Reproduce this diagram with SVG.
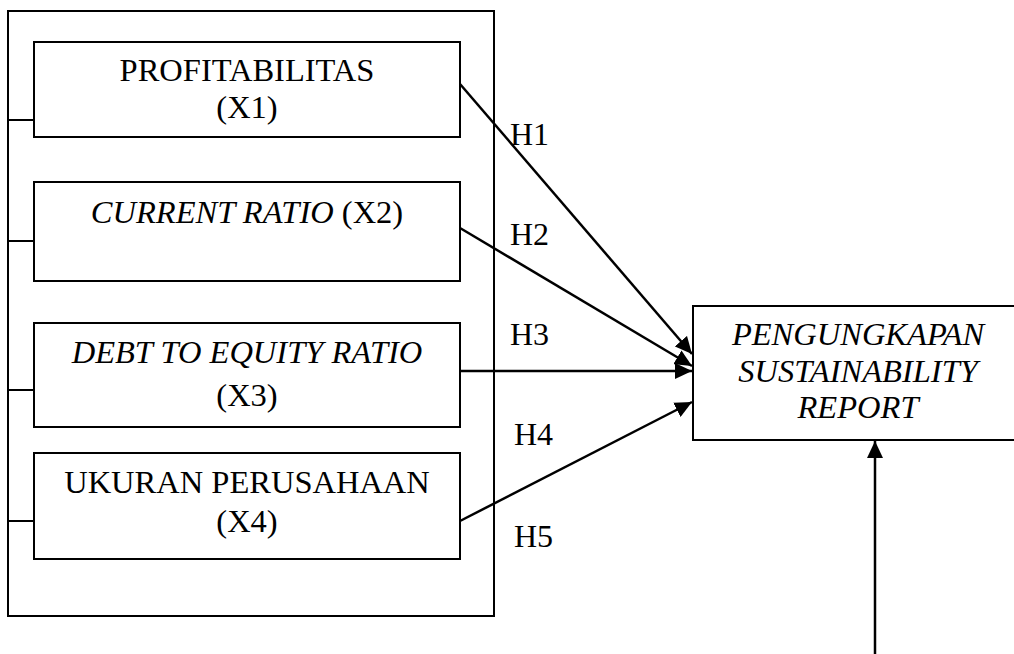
<svg xmlns="http://www.w3.org/2000/svg" width="1014" height="654" viewBox="0 0 1014 654">
<style>
.box{fill:#fff;stroke:#000;stroke-width:2}
.t{font-family:"Liberation Serif","Times New Roman",serif;font-size:32.5px;fill:#000;text-anchor:middle}
.i{font-style:italic}
.l{font-family:"Liberation Serif","Times New Roman",serif;font-size:32px;fill:#000}
.c{stroke:#000;stroke-width:2.5;fill:none}
.k{stroke:#000;stroke-width:2;fill:none}
</style>
<defs>
<marker id="ah" markerUnits="userSpaceOnUse" markerWidth="18" markerHeight="16" refX="17" refY="8" orient="auto">
<path d="M0,0 L17,8 L0,16 Z" fill="#000"/>
</marker>
</defs>
<g id="group-box">
<rect class="box" x="8" y="11" width="486" height="605"/>
</g>
<g id="ticks">
<line class="k" x1="8" y1="120" x2="34" y2="120"/>
<line class="k" x1="8" y1="241" x2="34" y2="241"/>
<line class="k" x1="8" y1="390" x2="34" y2="390"/>
<line class="k" x1="8" y1="521" x2="34" y2="521"/>
</g>
<g id="x1">
<rect class="box" x="34" y="42" width="426" height="95"/>
<text class="t" x="247" y="81">PROFITABILITAS</text>
<text class="t" x="247" y="118">(X1)</text>
</g>
<g id="x2">
<rect class="box" x="34" y="182" width="426" height="99"/>
<text class="t" x="247" y="223"><tspan class="i">CURRENT RATIO</tspan> (X2)</text>
</g>
<g id="x3">
<rect class="box" x="34" y="323" width="426" height="104"/>
<text class="t i" x="247" y="363">DEBT TO EQUITY RATIO</text>
<text class="t" x="247" y="406">(X3)</text>
</g>
<g id="x4">
<rect class="box" x="34" y="453" width="426" height="106"/>
<text class="t" x="247" y="493">UKURAN PERUSAHAAN</text>
<text class="t" x="247" y="532">(X4)</text>
</g>
<g id="y">
<rect class="box" x="693" y="306" width="330" height="134"/>
<text class="t i" x="858" y="345">PENGUNGKAPAN</text>
<text class="t i" x="858" y="382">SUSTAINABILITY</text>
<text class="t i" x="858" y="418">REPORT</text>
</g>
<g id="connectors">
<line class="c" x1="460" y1="84" x2="692" y2="354" marker-end="url(#ah)"/>
<line class="c" x1="460" y1="228" x2="692" y2="366" marker-end="url(#ah)"/>
<line class="c" x1="460" y1="371" x2="692" y2="371" marker-end="url(#ah)"/>
<line class="c" x1="460" y1="521" x2="692" y2="402" marker-end="url(#ah)"/>
<line class="c" x1="875" y1="654" x2="875" y2="441" marker-end="url(#ah)"/>
</g>
<g id="labels">
<text class="l" x="510" y="145">H1</text>
<text class="l" x="510" y="245">H2</text>
<text class="l" x="510" y="345">H3</text>
<text class="l" x="514" y="445">H4</text>
<text class="l" x="514" y="547">H5</text>
</g>
</svg>
